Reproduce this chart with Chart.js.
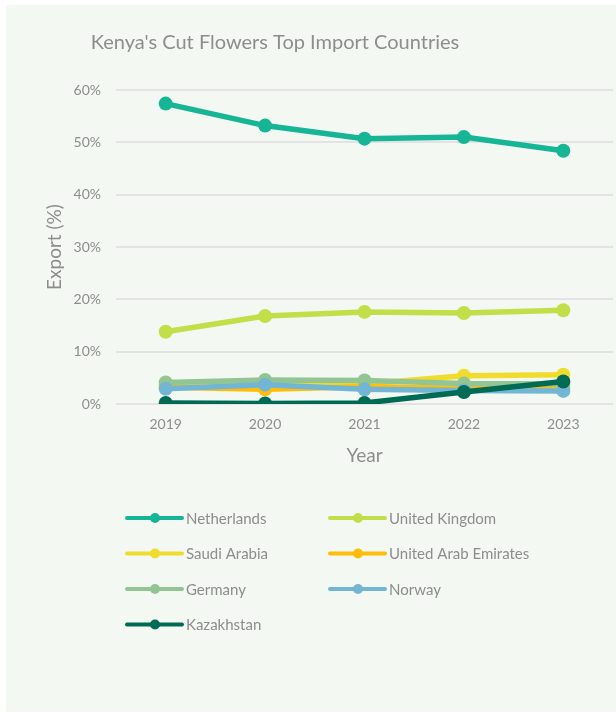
<!DOCTYPE html>
<html>
<head>
<meta charset="utf-8">
<title>Kenya's Cut Flowers Top Import Countries</title>
<script src="https://cdn.jsdelivr.net/npm/chart.js@4"></script>
<style>
    html, body { margin: 0; padding: 0; background: #ffffff; }
    #wrap { width: 616px; height: 713px; position: relative; }
</style>
</head>
<body>
<div id="wrap"><canvas id="flowersChart" width="616" height="713"></canvas></div>
<script>
const TITLE = "Kenya's Cut Flowers Top Import Countries";
const YEARS = ['2019', '2020', '2021', '2022', '2023'];
const Y_TICKS = [0, 10, 20, 30, 40, 50, 60];

const COUNTRIES = ['Netherlands', 'United Kingdom', 'Saudi Arabia', 'United Arab Emirates', 'Germany', 'Norway', 'Kazakhstan'];
const COLORS    = ['#16b596', '#c2de48', '#f0dc2c', '#ffbd0a', '#93c594', '#72b6d3', '#006b55'];

const netherlands   = [57.4, 53.2, 50.7, 51.0, 48.4];
const unitedKingdom = [13.8, 16.8, 17.6, 17.4, 17.9];
const saudiArabia   = [3.7, 3.3, 3.8, 5.4, 5.6];
const uae           = [3.2, 2.8, 3.3, 3.0, 3.0];
const germany       = [4.1, 4.6, 4.5, 3.9, 3.8];
const norway        = [2.9, 3.7, 2.8, 2.6, 2.5];
const kazakhstan    = [0.2, 0.1, 0.2, 2.3, 4.3];

const SERIES = [netherlands, unitedKingdom, saudiArabia, uae, germany, norway, kazakhstan];

const FONT = 'Lato, "Open Sans", sans-serif';
const TEXT_GRAY = '#8d8d8d';

// light green card behind everything, title sits a bit left of centre
const cardBackground = {
    id: 'cardBackground',
    beforeDraw(chart)
    {
        const ctx = chart.ctx;
        ctx.save();
        ctx.fillStyle = '#ffffff';
        ctx.fillRect(0, 0, chart.width, chart.height);
        ctx.fillStyle = '#f3f8f2';
        ctx.fillRect(6, 5, chart.width - 6, chart.height - 6);

        ctx.fillStyle = TEXT_GRAY;
        ctx.font = `20px ${FONT}`;
        ctx.textAlign = 'center';
        ctx.textBaseline = 'middle';
        ctx.fillText(TITLE, 275, 43);
        ctx.restore();
    }
};

// two-column legend under the x axis
const columnLegend = {
    id: 'columnLegend',
    afterDraw(chart)
    {
        const ctx = chart.ctx;
        const colX = [127, 330];
        const rowY = 518;
        const rowGap = 35.5;

        ctx.save();
        ctx.font = `15px ${FONT}`;
        ctx.textBaseline = 'middle';

        chart.data.datasets.forEach((ds, i) => {
            const x = colX[i % 2];
            const y = rowY + Math.floor(i / 2) * rowGap;

            ctx.strokeStyle = ds.borderColor;
            ctx.lineWidth = 4;
            ctx.lineCap = 'round';
            ctx.beginPath();
            ctx.moveTo(x, y);
            ctx.lineTo(x + 55, y);
            ctx.stroke();

            ctx.fillStyle = ds.borderColor;
            ctx.beginPath();
            ctx.arc(x + 28, y, 5, 0, Math.PI * 2);
            ctx.fill();

            ctx.fillStyle = TEXT_GRAY;
            ctx.fillText(ds.label, x + 59, y + 1);
        });

        ctx.restore();
    }
};

const datasets = COUNTRIES.map((name, i) => ({
    label: name,
    data: SERIES[i],
    borderColor: COLORS[i],
    backgroundColor: COLORS[i],
    pointBackgroundColor: COLORS[i],
    pointBorderWidth: 0,
    pointRadius: 7,
    borderWidth: 5.5,
    tension: 0,
    order: COUNTRIES.length - i
}));

const ctx = document.getElementById('flowersChart').getContext('2d');

new Chart(ctx, {
    type: 'line',
    data: { labels: YEARS, datasets: datasets },
    options: {
        responsive: false,
        animation: false,
        layout: {
            autoPadding: false,
            padding: { left: 0, right: 3, top: 90, bottom: 246 }
        },
        plugins: {
            legend: { display: false },
            tooltip: { enabled: false },
            title: { display: false }
        },
        scales: {
            x: {
                offset: true,
                grid: { display: false, drawTicks: false },
                border: { display: false },
                ticks: { color: TEXT_GRAY, font: { family: FONT, size: 14 }, padding: 12 },
                title: {
                    display: true,
                    text: 'Year',
                    color: TEXT_GRAY,
                    font: { family: FONT, size: 19 },
                    padding: 0
                },
                afterFit: scale => {
                    scale.height = 63;
                    scale.paddingLeft = 0;
                    scale.paddingRight = 0;
                }
            },
            y: {
                min: 0,
                max: 60,
                afterBuildTicks: scale => { scale.ticks = Y_TICKS.map(v => ({ value: v })); },
                grid: { color: '#e3e3e3', lineWidth: 2, drawTicks: false },
                border: { display: false },
                ticks: {
                    color: TEXT_GRAY,
                    font: { family: FONT, size: 14 },
                    padding: 15,
                    callback: v => v + '%'
                },
                title: {
                    display: true,
                    text: 'Export (%)',
                    color: TEXT_GRAY,
                    font: { family: FONT, size: 19 },
                    padding: { top: 43.6, bottom: 0 }
                },
                afterFit: scale => { scale.width = 116; }
            }
        }
    },
    plugins: [cardBackground, columnLegend]
});
</script>
</body>
</html>
